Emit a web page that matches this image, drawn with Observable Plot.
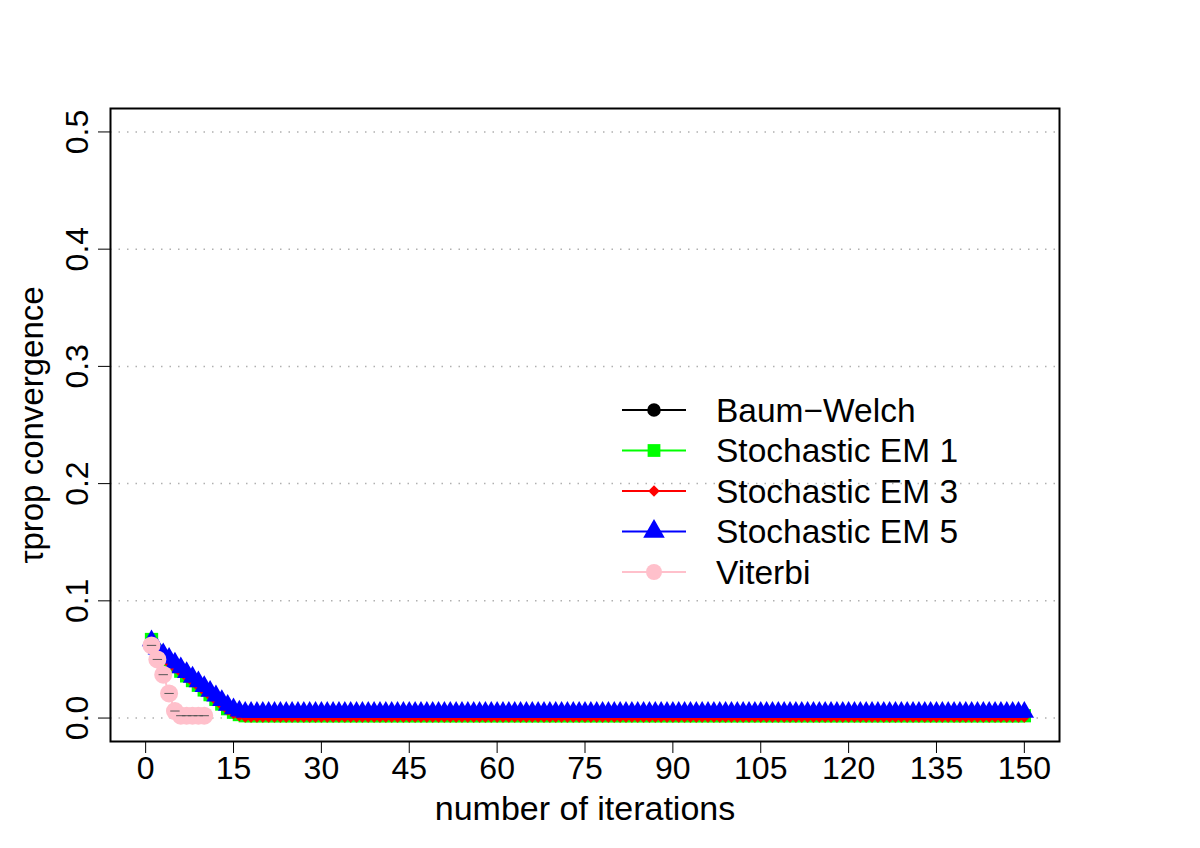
<!DOCTYPE html>
<html>
<head>
<meta charset="utf-8">
<script src="https://cdn.jsdelivr.net/npm/d3@7"></script>
<script src="https://cdn.jsdelivr.net/npm/@observablehq/plot@0.6"></script>
<style>
  html, body { margin: 0; padding: 0; background: white; }
  #wrap { position: relative; width: 1200px; height: 848px; font-family: "Liberation Sans", Arial, Helvetica, sans-serif; }
  #legend { position: absolute; left: 0; top: 0; pointer-events: none; }
</style>
</head>
<body>
<div id="wrap"></div>
<script>
// ---- data ----
const seriesNames = ["Baum\u2212Welch", "Stochastic EM 1", "Stochastic EM 3", "Stochastic EM 5", "Viterbi"];
const seriesColors = ["#000000", "#00ff00", "#ff0000", "#0000ff", "#ffc0cb"];
const seriesSymbols = ["circle", "square", "diamond2", "triangle", "circle"];

const xTicks = [0, 15, 30, 45, 60, 75, 90, 105, 120, 135, 150];
const yTicks = [0, 0.1, 0.2, 0.3, 0.4, 0.5];

const baumWelch = [
  0.066, 0.057, 0.053, 0.049, 0.045, 0.041, 0.037, 0.033, 0.029, 0.025,
  0.021, 0.017, 0.013, 0.009, 0.006, 0.004, 0.003, 0.003, 0.003, 0.003,
  0.003, 0.003, 0.003, 0.003, 0.003, 0.003, 0.003, 0.003, 0.003, 0.003,
  0.003, 0.003, 0.003, 0.003, 0.003, 0.003, 0.003, 0.003, 0.003, 0.003,
  0.003, 0.003, 0.003, 0.003, 0.003, 0.003, 0.003, 0.003, 0.003, 0.003,
  0.003, 0.003, 0.003, 0.003, 0.003, 0.003, 0.003, 0.003, 0.003, 0.003,
  0.003, 0.003, 0.003, 0.003, 0.003, 0.003, 0.003, 0.003, 0.003, 0.003,
  0.003, 0.003, 0.003, 0.003, 0.003, 0.003, 0.003, 0.003, 0.003, 0.003,
  0.003, 0.003, 0.003, 0.003, 0.003, 0.003, 0.003, 0.003, 0.003, 0.003,
  0.003, 0.003, 0.003, 0.003, 0.003, 0.003, 0.003, 0.003, 0.003, 0.003,
  0.003, 0.003, 0.003, 0.003, 0.003, 0.003, 0.003, 0.003, 0.003, 0.003,
  0.003, 0.003, 0.003, 0.003, 0.003, 0.003, 0.003, 0.003, 0.003, 0.003,
  0.003, 0.003, 0.003, 0.003, 0.003, 0.003, 0.003, 0.003, 0.003, 0.003,
  0.003, 0.003, 0.003, 0.003, 0.003, 0.003, 0.003, 0.003, 0.003, 0.003,
  0.003, 0.003, 0.003, 0.003, 0.003, 0.003, 0.003, 0.003, 0.003, 0.003
];
const stochEM1 = [
  0.067, 0.057, 0.052, 0.048, 0.044, 0.040, 0.036, 0.032, 0.028, 0.024,
  0.020, 0.016, 0.012, 0.008, 0.005, 0.003, 0.002, 0.002, 0.002, 0.002,
  0.002, 0.002, 0.002, 0.002, 0.002, 0.002, 0.002, 0.002, 0.002, 0.002,
  0.002, 0.002, 0.002, 0.002, 0.002, 0.002, 0.002, 0.002, 0.002, 0.002,
  0.002, 0.002, 0.002, 0.002, 0.002, 0.002, 0.002, 0.002, 0.002, 0.002,
  0.002, 0.002, 0.002, 0.002, 0.002, 0.002, 0.002, 0.002, 0.002, 0.002,
  0.002, 0.002, 0.002, 0.002, 0.002, 0.002, 0.002, 0.002, 0.002, 0.002,
  0.002, 0.002, 0.002, 0.002, 0.002, 0.002, 0.002, 0.002, 0.002, 0.002,
  0.002, 0.002, 0.002, 0.002, 0.002, 0.002, 0.002, 0.002, 0.002, 0.002,
  0.002, 0.002, 0.002, 0.002, 0.002, 0.002, 0.002, 0.002, 0.002, 0.002,
  0.002, 0.002, 0.002, 0.002, 0.002, 0.002, 0.002, 0.002, 0.002, 0.002,
  0.002, 0.002, 0.002, 0.002, 0.002, 0.002, 0.002, 0.002, 0.002, 0.002,
  0.002, 0.002, 0.002, 0.002, 0.002, 0.002, 0.002, 0.002, 0.002, 0.002,
  0.002, 0.002, 0.002, 0.002, 0.002, 0.002, 0.002, 0.002, 0.002, 0.002,
  0.002, 0.002, 0.002, 0.002, 0.002, 0.002, 0.002, 0.002, 0.002, 0.002
];
const stochEM3 = [
  0.065, 0.056, 0.051, 0.047, 0.043, 0.039, 0.035, 0.031, 0.027, 0.023,
  0.019, 0.015, 0.011, 0.007, 0.004, 0.002, 0.001, 0.001, 0.001, 0.001,
  0.001, 0.001, 0.001, 0.001, 0.001, 0.001, 0.001, 0.001, 0.001, 0.001,
  0.001, 0.001, 0.001, 0.001, 0.001, 0.001, 0.001, 0.001, 0.001, 0.001,
  0.001, 0.001, 0.001, 0.001, 0.001, 0.001, 0.001, 0.001, 0.001, 0.001,
  0.001, 0.001, 0.001, 0.001, 0.001, 0.001, 0.001, 0.001, 0.001, 0.001,
  0.001, 0.001, 0.001, 0.001, 0.001, 0.001, 0.001, 0.001, 0.001, 0.001,
  0.001, 0.001, 0.001, 0.001, 0.001, 0.001, 0.001, 0.001, 0.001, 0.001,
  0.001, 0.001, 0.001, 0.001, 0.001, 0.001, 0.001, 0.001, 0.001, 0.001,
  0.001, 0.001, 0.001, 0.001, 0.001, 0.001, 0.001, 0.001, 0.001, 0.001,
  0.001, 0.001, 0.001, 0.001, 0.001, 0.001, 0.001, 0.001, 0.001, 0.001,
  0.001, 0.001, 0.001, 0.001, 0.001, 0.001, 0.001, 0.001, 0.001, 0.001,
  0.001, 0.001, 0.001, 0.001, 0.001, 0.001, 0.001, 0.001, 0.001, 0.001,
  0.001, 0.001, 0.001, 0.001, 0.001, 0.001, 0.001, 0.001, 0.001, 0.001,
  0.001, 0.001, 0.001, 0.001, 0.001, 0.001, 0.001, 0.001, 0.001, 0.001
];
const stochEM5 = [
  0.066, 0.059, 0.055, 0.051, 0.047, 0.043, 0.039, 0.035, 0.031, 0.027,
  0.023, 0.019, 0.015, 0.011, 0.008, 0.006, 0.005, 0.005, 0.005, 0.005,
  0.005, 0.005, 0.005, 0.005, 0.005, 0.005, 0.005, 0.005, 0.005, 0.005,
  0.005, 0.005, 0.005, 0.005, 0.005, 0.005, 0.005, 0.005, 0.005, 0.005,
  0.005, 0.005, 0.005, 0.005, 0.005, 0.005, 0.005, 0.005, 0.005, 0.005,
  0.005, 0.005, 0.005, 0.005, 0.005, 0.005, 0.005, 0.005, 0.005, 0.005,
  0.005, 0.005, 0.005, 0.005, 0.005, 0.005, 0.005, 0.005, 0.005, 0.005,
  0.005, 0.005, 0.005, 0.005, 0.005, 0.005, 0.005, 0.005, 0.005, 0.005,
  0.005, 0.005, 0.005, 0.005, 0.005, 0.005, 0.005, 0.005, 0.005, 0.005,
  0.005, 0.005, 0.005, 0.005, 0.005, 0.005, 0.005, 0.005, 0.005, 0.005,
  0.005, 0.005, 0.005, 0.005, 0.005, 0.005, 0.005, 0.005, 0.005, 0.005,
  0.005, 0.005, 0.005, 0.005, 0.005, 0.005, 0.005, 0.005, 0.005, 0.005,
  0.005, 0.005, 0.005, 0.005, 0.005, 0.005, 0.005, 0.005, 0.005, 0.005,
  0.005, 0.005, 0.005, 0.005, 0.005, 0.005, 0.005, 0.005, 0.005, 0.005,
  0.005, 0.005, 0.005, 0.005, 0.005, 0.005, 0.005, 0.005, 0.005, 0.005
];
const viterbi = [0.062, 0.050, 0.037, 0.021, 0.006, 0.002, 0.002, 0.002, 0.002, 0.002];

// ---- build rows ----
const seriesValues = [baumWelch, stochEM1, stochEM3, stochEM5, viterbi];
const seriesR = [6.5, 7.5, 5.2, 7.2, 9];
const rowsOf = (vals) => vals.map((v, i) => ({x: i + 1, y: v}));

const marks = [
  Plot.gridY(yTicks, {stroke: "#b0b0b0", strokeOpacity: 1, strokeWidth: 1.5, strokeDasharray: "1.5,7"})
];
seriesValues.forEach((vals, k) => {
  const rows = rowsOf(vals);
  marks.push(Plot.line(rows, {x: "x", y: "y", stroke: seriesColors[k], strokeWidth: 2}));
  marks.push(Plot.dot(rows, {x: "x", y: "y", symbol: () => seriesSymbols[k], r: seriesR[k], fill: seriesColors[k], stroke: "none"}));
  if (k === 4) {
    marks.push(Plot.link(rows, {x1: d => d.x - 0.8, x2: d => d.x + 0.8, y1: "y", y2: "y", stroke: "#555", strokeWidth: 1}));
  }
});
marks.push(
  Plot.frame({stroke: "black", strokeWidth: 2}),
  Plot.axisX({ticks: xTicks, tickSize: 12, tickPadding: 3, fontSize: 32, tickFormat: d => String(d), label: null}),
  Plot.axisY({ticks: yTicks, tickSize: 12, tickFormat: () => "", label: null}),
  Plot.text(yTicks, {y: d => d, text: d => d.toFixed(1), frameAnchor: "left", rotate: -90, dx: -33, fontSize: 32, textAnchor: "middle", lineAnchor: "middle"}),
  Plot.text(["\u03c4prop convergence"], {frameAnchor: "left", rotate: -90, dx: -78, fontSize: 33, textAnchor: "middle", lineAnchor: "middle"}),
  Plot.text(["number of iterations"], {frameAnchor: "bottom", dy: 68, fontSize: 34, textAnchor: "middle", lineAnchor: "middle"})
);

const chart = Plot.plot({
  width: 1200,
  height: 848,
  marginLeft: 110,
  marginRight: 141,
  marginTop: 108,
  marginBottom: 107,
  x: {domain: [-6, 156], axis: null},
  y: {domain: [-0.02, 0.52], axis: null},
  style: {fontFamily: "'Liberation Sans', Arial, Helvetica, sans-serif", background: "white", color: "black", overflow: "visible"},
  marks
});
const wrap = document.getElementById("wrap");
wrap.appendChild(chart);

// ---- legend (overlay, bty = "n") ----
const leg = d3.select(wrap).append("svg").attr("id", "legend").attr("width", 1200).attr("height", 848);
const legX0 = 622, legX1 = 686, legMarkX = 654, legTextX = 716, legY0 = 410, legDy = 40.5;
const legR = [6.8, 7.2, 5.2, 8, 8];
seriesNames.forEach((name, k) => {
  const y = legY0 + k * legDy;
  const g = leg.append("g");
  g.append("line").attr("x1", legX0).attr("x2", legX1).attr("y1", y).attr("y2", y)
    .attr("stroke", seriesColors[k]).attr("stroke-width", 2);
  const symMap = {circle: d3.symbolCircle, square: d3.symbolSquare, diamond2: d3.symbolDiamond2, triangle: d3.symbolTriangle};
  g.append("path").attr("d", d3.symbol(symMap[seriesSymbols[k]], Math.PI * legR[k] * legR[k])())
    .attr("transform", `translate(${legMarkX},${y})`).attr("fill", seriesColors[k]);
  g.append("text").attr("x", legTextX).attr("y", y).attr("dy", "0.35em")
    .attr("font-size", 33.5).attr("font-family", "'Liberation Sans', Arial, Helvetica, sans-serif")
    .attr("fill", "black").text(name);
});
</script>
</body>
</html>
